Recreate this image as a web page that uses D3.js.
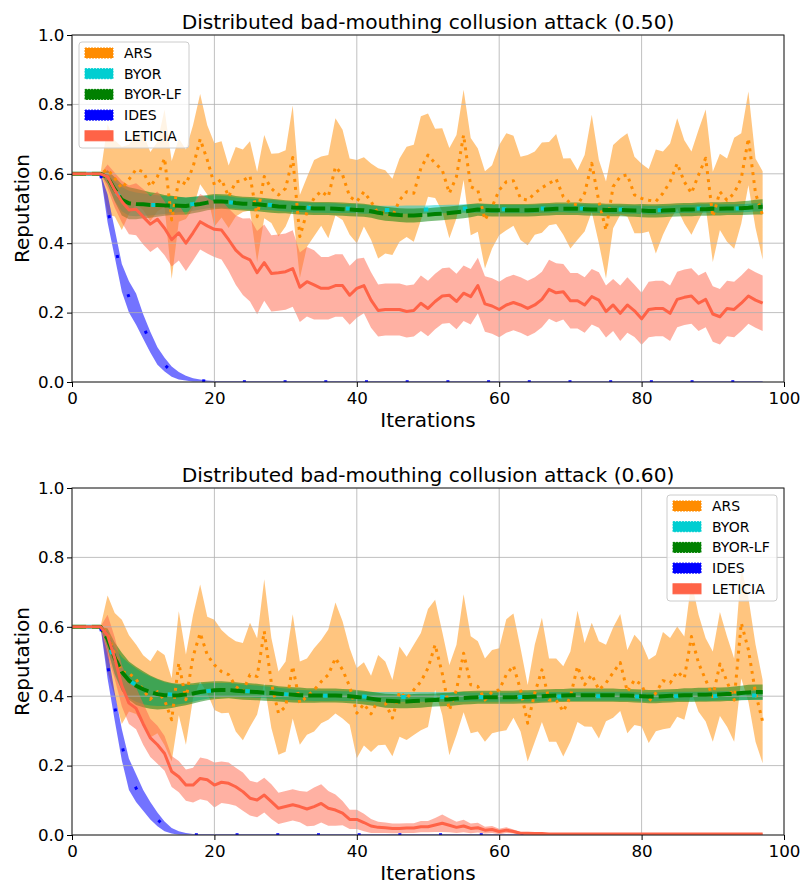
<!DOCTYPE html>
<html>
<head>
<meta charset="utf-8">
<script src="https://cdn.jsdelivr.net/npm/d3@7"></script>
<style>
body { margin: 0; background: #fff; }
text { font-family: "DejaVu Sans", sans-serif; fill: #000; }
</style>
</head>
<body>
<svg id="ReputationChart"></svg>
<script>
// ---- data ----
var iterations = d3.range(0, 98);
var seriesNames = ["ARS", "BYOR", "BYOR-LF", "IDES", "LETICIA"];
var xTicks = [0, 20, 40, 60, 80, 100];
var yTicks = [0, 0.2, 0.4, 0.6, 0.8, 1.0];
var titles = ["Distributed bad-mouthing collusion attack (0.50)",
              "Distributed bad-mouthing collusion attack (0.60)"];

// attack 0.50
var arsMeanA = [
  .6,.6,.6,.6,.6,.613,.587,.558,.584,.613,
  .606,.563,.592,.645,.467,.582,.57,.62,.70,.64,
  .568,.584,.534,.577,.58,.594,.476,.592,.558,.539,
  .558,.647,.419,.49,.53,.55,.534,.62,.597,.534,
  .52,.548,.52,.486,.49,.476,.524,.548,.544,.616,
  .654,.63,.611,.544,.592,.712,.563,.553,.467,.505,
  .553,.577,.58,.529,.524,.544,.56,.572,.585,.534,
  .515,.51,.544,.63,.52,.438,.563,.592,.597,.539,
  .529,.524,.52,.544,.577,.63,.577,.544,.597,.645,
  .476,.548,.524,.544,.587,.702,.544,.48];
var arsStdA = [
  0,0,0,0,0,.13,.11,.12,.10,.10,
  .11,.10,.10,.14,.17,.12,.10,.12,.13,.10,
  .12,.11,.09,.10,.09,.10,.13,.12,.10,.12,
  .11,.15,.12,.10,.11,.10,.12,.14,.13,.11,
  .12,.10,.11,.13,.12,.11,.12,.13,.14,.15,
  .12,.10,.12,.13,.12,.13,.14,.12,.14,.12,
  .13,.14,.13,.12,.13,.12,.13,.12,.13,.11,
  .13,.10,.11,.14,.12,.14,.12,.11,.12,.11,
  .10,.09,.15,.12,.11,.13,.12,.12,.13,.14,
  .13,.11,.12,.16,.13,.135,.10,.127];
var byorMeanA = [
  .6,.6,.6,.6,.6,.585,.55,.527,.515,.512,
  .511,.51,.51,.51,.511,.511,.511,.513,.516,.518,
  .52,.52,.518,.516,.514,.513,.512,.511,.51,.508,
  .506,.505,.504,.503,.502,.502,.501,.501,.5,.5,
  .499,.498,.497,.496,.496,.496,.496,.497,.497,.497,
  .497,.498,.498,.499,.499,.5,.5,.5,.5,.499,
  .498,.498,.498,.498,.498,.499,.5,.5,.501,.501,
  .5,.5,.5,.5,.499,.498,.497,.497,.497,.497,
  .496,.495,.495,.496,.497,.498,.499,.499,.5,.5,
  .5,.5,.5,.5,.501,.502,.503,.503];
var byorStdA = [
  0,0,0,0,0,.015,.028,.035,.036,.034,
  .032,.03,.028,.026,.024,.022,.021,.02,.019,.018,
  .018,.017,.017,.016,.016,.016,.015,.015,.015,.015,
  .015,.015,.014,.014,.014,.014,.014,.014,.013,.013,
  .013,.013,.012,.012,.012,.012,.012,.012,.012,.012,
  .012,.012,.012,.012,.012,.012,.012,.012,.012,.012,
  .012,.012,.012,.012,.012,.012,.012,.012,.012,.012,
  .012,.012,.012,.012,.012,.012,.012,.012,.012,.012,
  .012,.012,.012,.012,.012,.012,.012,.012,.012,.012,
  .012,.012,.012,.012,.012,.012,.012,.012];
var byorlfMeanA = [
  .6,.6,.6,.6,.6,.59,.555,.525,.515,.513,
  .512,.51,.51,.509,.509,.508,.507,.51,.513,.517,
  .52,.52,.519,.516,.514,.513,.512,.51,.508,.506,
  .505,.503,.502,.501,.5,.5,.5,.499,.498,.497,
  .496,.495,.492,.488,.485,.483,.481,.48,.48,.481,
  .482,.484,.485,.487,.489,.491,.494,.497,.496,.495,
  .495,.495,.495,.495,.495,.496,.497,.498,.499,.499,
  .499,.499,.498,.497,.497,.496,.496,.496,.495,.494,
  .494,.493,.493,.494,.495,.496,.497,.497,.498,.498,
  .499,.499,.5,.5,.501,.502,.504,.505];
var byorlfStdA = [
  0,0,0,0,0,.02,.035,.045,.046,.044,
  .04,.037,.034,.03,.028,.026,.025,.024,.023,.022,
  .022,.021,.021,.02,.02,.02,.02,.02,.02,.02,
  .019,.019,.019,.019,.019,.019,.019,.019,.019,.019,
  .019,.019,.019,.02,.02,.02,.02,.02,.02,.02,
  .019,.019,.019,.019,.019,.019,.019,.018,.018,.018,
  .018,.018,.018,.018,.018,.018,.018,.018,.018,.018,
  .018,.018,.018,.018,.018,.018,.018,.018,.018,.018,
  .019,.019,.019,.019,.019,.019,.019,.019,.019,.019,
  .019,.019,.019,.019,.02,.02,.021,.022];
var idesMeanA = [
  .6,.6,.6,.6,.6,.50,.40,.30,.245,.21,
  .16,.115,.075,.05,.03,.018,.011,.006,.004,.002,
  .001,.001,.001,.001,.001,.001,.001,.001,.001,.001,
  .001,.001,.001,.001,.001,.001,.001,.001,.001,.001,
  .001,.001,.001,.001,.001,.001,.001,.001,.001,.001,
  .001,.001,.001,.001,.001,.001,.001,.001,.001,.001,
  .001,.001,.001,.001,.001,.001,.001,.001,.001,.001,
  .001,.001,.001,.001,.001,.001,.001,.001,.001,.001,
  .001,.001,.001,.001,.001,.001,.001,.001,.001,.001,
  .001,.001,.001,.001,.001,.001,.001,.001];
var idesStdA = [
  0,0,0,0,0,.04,.04,.04,.045,.045,
  .035,.03,.025,.02,.015,.011,.007,.005,.003,.002,
  .002,.002,.002,.002,.002,.002,.002,.002,.002,.002,
  .002,.002,.002,.002,.002,.002,.002,.002,.002,.002,
  .002,.002,.002,.002,.002,.002,.002,.002,.002,.002,
  .002,.002,.002,.002,.002,.002,.002,.002,.002,.002,
  .002,.002,.002,.002,.002,.002,.002,.002,.002,.002,
  .002,.002,.002,.002,.002,.002,.002,.002,.002,.002,
  .002,.002,.002,.002,.002,.002,.002,.002,.002,.002,
  .002,.002,.002,.002,.002,.002,.002,.002];
var leticiaMeanA = [
  .6,.6,.6,.6,.6,.592,.553,.52,.496,.498,
  .476,.455,.469,.443,.41,.43,.40,.43,.462,.45,
  .44,.438,.41,.38,.361,.352,.315,.344,.313,.315,
  .318,.327,.273,.289,.28,.27,.27,.278,.278,.25,
  .27,.278,.236,.206,.209,.209,.209,.203,.206,.227,
  .212,.232,.248,.25,.232,.256,.246,.278,.225,.219,
  .209,.222,.229,.222,.212,.222,.238,.267,.257,.26,
  .234,.234,.222,.246,.236,.203,.222,.198,.222,.205,
  .182,.209,.212,.212,.198,.238,.244,.248,.227,.238,
  .196,.188,.212,.209,.227,.248,.236,.227];
var leticiaStdA = [
  0,0,0,0,0,.035,.05,.06,.07,.075,
  .08,.08,.08,.078,.077,.08,.08,.08,.08,.08,
  .08,.085,.09,.10,.11,.12,.12,.11,.11,.11,
  .11,.11,.10,.10,.10,.09,.09,.09,.09,.085,
  .085,.08,.08,.075,.075,.075,.075,.075,.075,.08,
  .08,.08,.08,.08,.08,.08,.08,.08,.08,.08,
  .08,.08,.08,.08,.08,.08,.08,.085,.085,.08,
  .08,.08,.08,.08,.08,.075,.075,.08,.08,.075,
  .075,.08,.08,.08,.08,.08,.08,.08,.08,.08,
  .08,.08,.08,.08,.08,.08,.08,.08];

// attack 0.60
var arsMeanB = [
  .6,.6,.6,.6,.6,.58,.52,.47,.466,.449,
  .418,.391,.413,.389,.332,.495,.39,.514,.582,.519,
  .49,.471,.462,.428,.413,.462,.457,.587,.438,.351,
  .37,.486,.38,.399,.418,.442,.462,.51,.476,.428,
  .351,.378,.349,.389,.38,.337,.413,.394,.418,.442,
  .481,.548,.466,.36,.418,.524,.433,.428,.389,.413,
  .418,.462,.488,.418,.322,.409,.476,.389,.389,.356,
  .399,.486,.433,.462,.418,.438,.468,.497,.413,.447,
  .433,.385,.409,.445,.438,.471,.452,.572,.495,.447,
  .399,.493,.442,.389,.611,.534,.409,.327];
var arsStdB = [
  0,0,0,0,0,.11,.12,.15,.11,.10,
  .10,.11,.12,.13,.12,.15,.13,.12,.14,.11,
  .13,.12,.11,.13,.14,.15,.11,.15,.13,.12,
  .13,.15,.12,.11,.12,.12,.13,.16,.14,.11,
  .13,.12,.11,.13,.12,.11,.13,.12,.13,.14,
  .17,.13,.12,.13,.13,.17,.14,.13,.12,.12,
  .12,.16,.15,.12,.11,.14,.15,.12,.12,.13,
  .13,.16,.12,.15,.14,.11,.13,.14,.12,.13,
  .12,.12,.11,.14,.13,.13,.12,.16,.14,.12,
  .13,.15,.13,.12,.16,.15,.14,.12];
var byorMeanB = [
  .6,.6,.6,.6,.6,.56,.50,.465,.445,.432,
  .422,.415,.41,.406,.405,.405,.406,.408,.412,.415,
  .417,.418,.418,.417,.415,.414,.413,.412,.41,.408,
  .406,.404,.403,.402,.401,.401,.401,.401,.4,.4,
  .4,.399,.398,.398,.398,.398,.398,.398,.398,.398,
  .398,.398,.398,.398,.398,.398,.398,.398,.397,.397,
  .397,.397,.398,.398,.398,.398,.398,.399,.399,.399,
  .399,.399,.4,.4,.4,.4,.4,.4,.4,.399,
  .398,.398,.398,.399,.399,.4,.4,.4,.4,.4,
  .4,.401,.401,.401,.402,.402,.402,.402];
var byorStdB = [
  0,0,0,0,0,.025,.04,.048,.05,.048,
  .045,.042,.038,.034,.031,.028,.026,.024,.023,.022,
  .021,.02,.02,.019,.019,.018,.018,.017,.017,.016,
  .016,.016,.015,.015,.015,.015,.015,.014,.014,.014,
  .014,.014,.014,.014,.014,.014,.014,.014,.014,.014,
  .014,.014,.014,.014,.014,.014,.013,.013,.013,.013,
  .013,.013,.013,.013,.013,.013,.013,.013,.013,.013,
  .013,.013,.013,.013,.013,.013,.013,.013,.013,.013,
  .013,.013,.013,.013,.013,.013,.013,.013,.013,.013,
  .013,.013,.013,.013,.013,.013,.013,.013];
var byorlfMeanB = [
  .6,.6,.6,.6,.6,.565,.51,.47,.445,.43,
  .42,.412,.406,.403,.402,.403,.405,.408,.412,.415,
  .417,.418,.418,.416,.414,.413,.412,.41,.409,.407,
  .405,.404,.403,.402,.402,.402,.402,.402,.401,.4,
  .398,.396,.393,.39,.387,.386,.385,.385,.386,.387,
  .388,.389,.39,.391,.393,.395,.396,.397,.397,.397,
  .397,.397,.397,.398,.398,.399,.4,.401,.402,.402,
  .403,.403,.403,.403,.403,.403,.403,.402,.402,.401,
  .4,.399,.399,.4,.401,.402,.403,.403,.404,.404,
  .405,.405,.406,.407,.409,.411,.412,.412];
var byorlfStdB = [
  0,0,0,0,0,.03,.045,.055,.055,.055,
  .052,.048,.044,.04,.036,.033,.031,.029,.028,.027,
  .026,.025,.024,.024,.024,.024,.024,.023,.023,.022,
  .022,.022,.022,.021,.021,.02,.02,.02,.02,.02,
  .02,.02,.02,.02,.02,.02,.02,.02,.02,.02,
  .019,.019,.019,.019,.019,.019,.019,.019,.019,.019,
  .019,.019,.019,.019,.019,.019,.019,.019,.019,.019,
  .019,.019,.019,.019,.019,.019,.019,.019,.019,.019,
  .019,.019,.019,.019,.019,.019,.02,.02,.02,.02,
  .02,.02,.02,.021,.021,.022,.022,.022];
var idesMeanB = [
  .6,.6,.6,.6,.6,.49,.37,.26,.175,.135,
  .10,.07,.045,.025,.012,.006,.003,.001,.001,.001,
  .001,.001,.001,.001,.001,.001,.001,.001,.001,.001,
  .001,.001,.001,.001,.001,.001,.001,.001,.001,.001,
  .001,.001,.001,.001,.001,.001,.001,.001,.001,.001,
  .001,.001,.001,.001,.001,.001,.001,.001,.001,.001,
  .001,.001,.001,.001,.001,.001,.001,.001,.001,.001,
  .001,.001,.001,.001,.001,.001,.001,.001,.001,.001,
  .001,.001,.001,.001,.001,.001,.001,.001,.001,.001,
  .001,.001,.001,.001,.001,.001,.001,.001];
var idesStdB = [
  0,0,0,0,0,.04,.04,.045,.045,.04,
  .03,.025,.02,.014,.008,.005,.003,.002,.002,.002,
  .002,.002,.002,.002,.002,.002,.002,.002,.002,.002,
  .002,.002,.002,.002,.002,.002,.002,.002,.002,.002,
  .002,.002,.002,.002,.002,.002,.002,.002,.002,.002,
  .002,.002,.002,.002,.002,.002,.002,.002,.002,.002,
  .002,.002,.002,.002,.002,.002,.002,.002,.002,.002,
  .002,.002,.002,.002,.002,.002,.002,.002,.002,.002,
  .002,.002,.002,.002,.002,.002,.002,.002,.002,.002,
  .002,.002,.002,.002,.002,.002,.002,.002];
var leticiaMeanB = [
  .6,.6,.6,.6,.6,.575,.51,.43,.38,.365,
  .32,.28,.26,.235,.183,.168,.144,.144,.163,.159,
  .144,.152,.149,.139,.125,.106,.101,.115,.096,.077,
  .082,.087,.082,.075,.082,.091,.077,.072,.063,.045,
  .045,.036,.026,.022,.021,.019,.019,.02,.02,.024,
  .024,.029,.034,.028,.022,.026,.019,.021,.014,.016,
  .01,.014,.01,.005,.005,.004,.004,.003,.003,.003,
  .003,.003,.003,.003,.003,.003,.003,.003,.003,.003,
  .003,.003,.003,.003,.003,.003,.003,.003,.003,.003,
  .003,.003,.003,.003,.003,.003,.003,.003];
var leticiaStdB = [
  0,0,0,0,0,.06,.06,.06,.06,.06,
  .06,.055,.055,.05,.045,.045,.045,.05,.06,.06,
  .065,.06,.06,.055,.055,.05,.05,.05,.05,.045,
  .045,.045,.045,.05,.055,.055,.05,.045,.035,.028,
  .028,.025,.02,.016,.015,.014,.014,.014,.014,.016,
  .016,.02,.025,.02,.016,.018,.014,.014,.01,.01,
  .008,.008,.006,.004,.003,.002,.002,.002,.002,.002,
  .002,.002,.002,.002,.002,.002,.002,.002,.002,.002,
  .002,.002,.002,.002,.002,.002,.002,.002,.002,.002,
  .002,.002,.002,.002,.002,.002,.002,.002];

// ---- styling ----
var seriesStyle = {
  "ARS":     {color: "#ff8c00", band: 0.5, width: 3,   dash: "3,5",       offset: 0},
  "BYOR":    {color: "#00ced1", band: 0.5, width: 4,   dash: "4.5,34.5",  offset: 24.25},
  "BYOR-LF": {color: "#008000", band: 0.5, width: 4,   dash: "14.5,5",    offset: 0},
  "IDES":    {color: "#0000ff", band: 0.55, width: 3,  dash: "3,37.7",    offset: 10.7},
  "LETICIA": {color: "#ff6347", band: 0.5, width: 3,   dash: null,        offset: 0}
};

var screen = {width: 806, height: 886};
var plotLeft = 72, plotRight = 784;

var panels = [
  {id: "a", top: 35, bottom: 382, title: titles[0], legendX: 79, legendY: 42,
   means: [arsMeanA, byorMeanA, byorlfMeanA, idesMeanA, leticiaMeanA],
   stds: [arsStdA, byorStdA, byorlfStdA, idesStdA, leticiaStdA]},
  {id: "b", top: 488, bottom: 835, title: titles[1], legendX: 667, legendY: 495,
   means: [arsMeanB, byorMeanB, byorlfMeanB, idesMeanB, leticiaMeanB],
   stds: [arsStdB, byorStdB, byorlfStdB, idesStdB, leticiaStdB]}
];

var svg = d3.select("#ReputationChart")
  .attr("width", screen.width)
  .attr("height", screen.height);

svg.append("rect")
  .attr("width", screen.width)
  .attr("height", screen.height)
  .attr("fill", "#fff");

var drawPanel = function(panel)
{
  var xScale = d3.scaleLinear().domain([0, 100]).range([plotLeft, plotRight]);
  var yScale = d3.scaleLinear().domain([0, 1]).range([panel.bottom, panel.top]);

  var series = seriesNames.map(function(name, k) {
    return {
      name: name,
      points: iterations.map(function(it, i) {
        return {x: it, m: panel.means[k][i], s: panel.stds[k][i]};
      })
    };
  });

  svg.append("clipPath")
    .attr("id", "clip-" + panel.id)
    .append("rect")
    .attr("x", plotLeft).attr("y", panel.top)
    .attr("width", plotRight - plotLeft)
    .attr("height", panel.bottom - panel.top);

  var plot = svg.append("g").attr("clip-path", "url(#clip-" + panel.id + ")");

  var area = d3.area()
    .x(function(d) { return xScale(d.x); })
    .y0(function(d) { return yScale(d.m - d.s); })
    .y1(function(d) { return yScale(d.m + d.s); });

  var line = d3.line()
    .x(function(d) { return xScale(d.x); })
    .y(function(d) { return yScale(d.m); });

  // bands first, like fill_between
  plot.selectAll("path.band")
    .data(series)
    .enter()
    .append("path")
    .classed("band", true)
    .attr("d", function(d) { return area(d.points); })
    .attr("fill", function(d) { return seriesStyle[d.name].color; })
    .attr("fill-opacity", function(d) { return seriesStyle[d.name].band; })
    .attr("stroke", "none");

  // grid
  var grid = svg.append("g");
  grid.selectAll("line.gx")
    .data(xTicks)
    .enter()
    .append("line")
    .attr("x1", function(d) { return xScale(d); })
    .attr("x2", function(d) { return xScale(d); })
    .attr("y1", panel.top).attr("y2", panel.bottom)
    .attr("stroke", "#b0b0b0").attr("stroke-width", 0.8);
  grid.selectAll("line.gy")
    .data(yTicks)
    .enter()
    .append("line")
    .attr("y1", function(d) { return yScale(d); })
    .attr("y2", function(d) { return yScale(d); })
    .attr("x1", plotLeft).attr("x2", plotRight)
    .attr("stroke", "#b0b0b0").attr("stroke-width", 0.8);

  var lines = svg.append("g").attr("clip-path", "url(#clip-" + panel.id + ")");
  lines.selectAll("path.mean")
    .data(series)
    .enter()
    .append("path")
    .classed("mean", true)
    .attr("d", function(d) { return line(d.points); })
    .attr("fill", "none")
    .attr("stroke", function(d) { return seriesStyle[d.name].color; })
    .attr("stroke-width", function(d) { return seriesStyle[d.name].width; })
    .attr("stroke-dasharray", function(d) { return seriesStyle[d.name].dash; })
    .attr("stroke-dashoffset", function(d) { return seriesStyle[d.name].offset; })
    .attr("stroke-linejoin", "round");

  // frame
  svg.append("rect")
    .attr("x", plotLeft).attr("y", panel.top)
    .attr("width", plotRight - plotLeft)
    .attr("height", panel.bottom - panel.top)
    .attr("fill", "none")
    .attr("stroke", "#262626")
    .attr("stroke-width", 1);

  // axes
  var xAxis = d3.axisBottom(xScale)
    .tickValues(xTicks)
    .tickSize(5)
    .tickPadding(5)
    .tickFormat(d3.format("d"));
  svg.append("g")
    .attr("transform", "translate(0," + panel.bottom + ")")
    .call(xAxis)
    .call(function(g) { g.select(".domain").remove(); })
    .attr("font-size", 16.7)
    .attr("font-family", "DejaVu Sans");

  var yAxis = d3.axisLeft(yScale)
    .tickValues(yTicks)
    .tickSize(5)
    .tickPadding(2.5)
    .tickFormat(d3.format(".1f"));
  svg.append("g")
    .attr("transform", "translate(" + plotLeft + ",0)")
    .call(yAxis)
    .call(function(g) { g.select(".domain").remove(); })
    .attr("font-size", 16.7)
    .attr("font-family", "DejaVu Sans");

  svg.selectAll(".tick line").attr("stroke", "#000");
  svg.selectAll(".tick text").attr("fill", "#000");

  // labels
  svg.append("text")
    .text(panel.title)
    .attr("x", (plotLeft + plotRight) / 2)
    .attr("y", panel.top - 6)
    .attr("text-anchor", "middle")
    .attr("font-size", 20.2);

  svg.append("text")
    .text("Iterations")
    .attr("x", (plotLeft + plotRight) / 2)
    .attr("y", panel.bottom + 45)
    .attr("text-anchor", "middle")
    .attr("font-size", 20);

  svg.append("g")
    .attr("transform", "translate(28.5," + ((panel.top + panel.bottom) / 2) + ")")
    .append("text")
    .text("Reputation")
    .attr("text-anchor", "middle")
    .attr("transform", "rotate(270)")
    .attr("font-size", 20);

  // legend
  var legend = svg.append("g")
    .attr("transform", "translate(" + panel.legendX + "," + panel.legendY + ")");
  legend.append("rect")
    .attr("width", 110).attr("height", 106)
    .attr("rx", 3)
    .attr("fill", "#fff").attr("fill-opacity", 0.8)
    .attr("stroke", "#cccccc").attr("stroke-width", 1);
  var rows = legend.selectAll("g.row")
    .data(seriesNames)
    .enter()
    .append("g")
    .attr("transform", function(d, i) { return "translate(0," + (11 + i * 20.7) + ")"; });
  rows.append("rect")
    .attr("x", 6).attr("y", -5)
    .attr("width", 28).attr("height", 10)
    .attr("fill", function(d) { return seriesStyle[d].color; })
    .attr("stroke", function(d) { return seriesStyle[d].color; })
    .attr("stroke-width", 1)
    .attr("stroke-dasharray", function(d) { return d == "LETICIA" ? null : "2,1"; });
  rows.append("text")
    .text(function(d) { return d; })
    .attr("x", 45)
    .attr("y", 5)
    .attr("font-size", 14);
};

panels.forEach(drawPanel);
</script>
</body>
</html>
